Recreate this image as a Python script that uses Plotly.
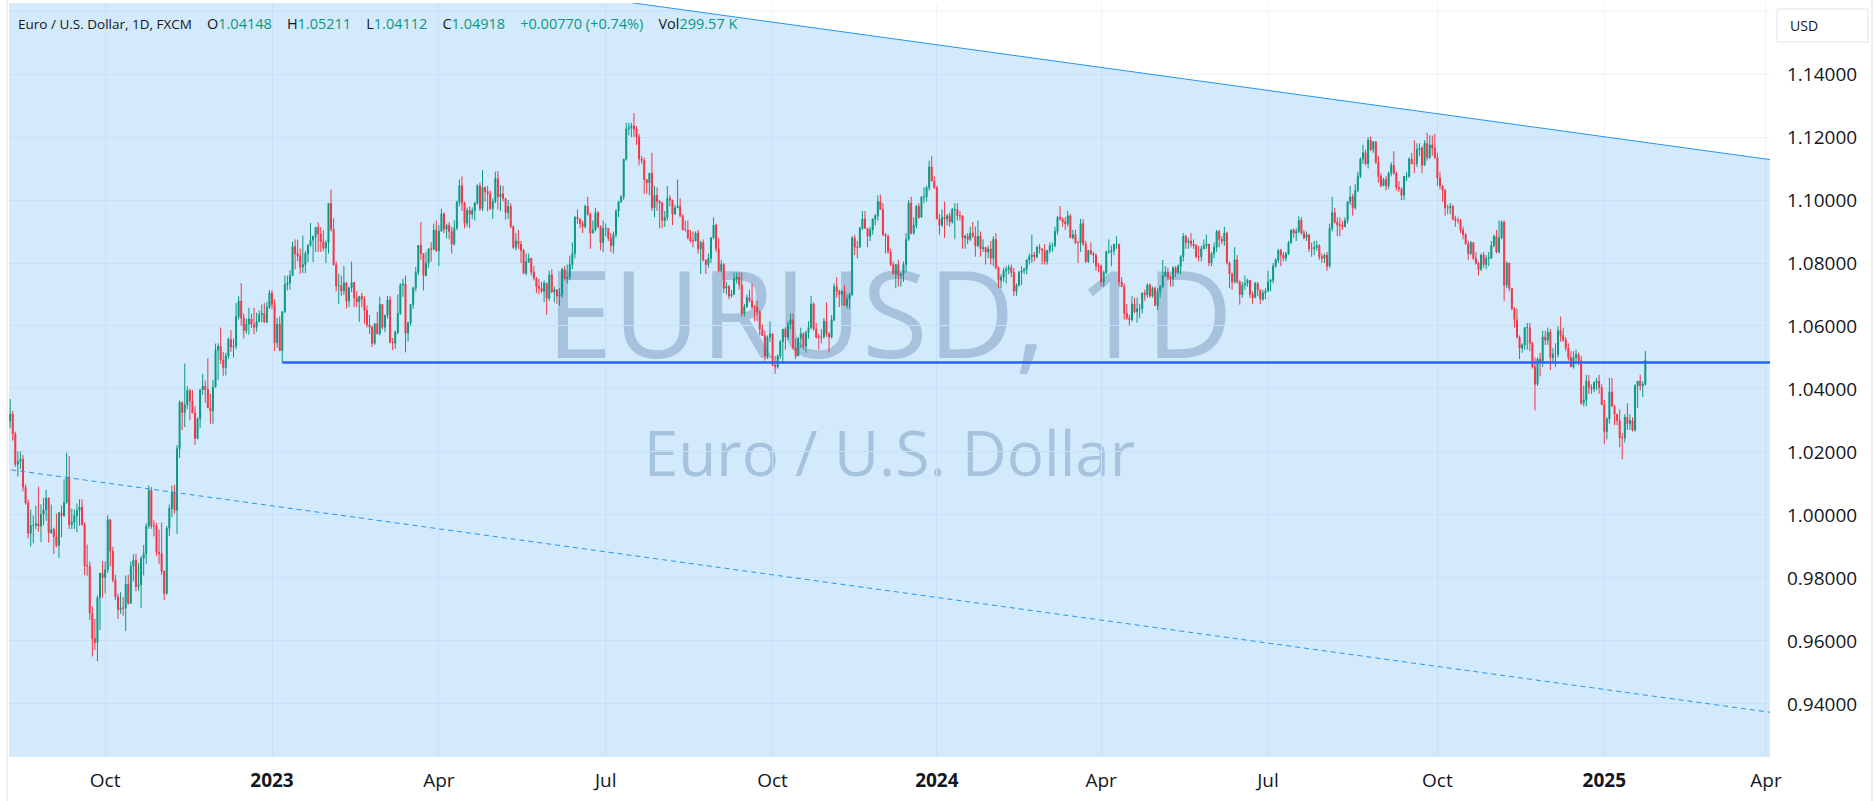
import pandas as pd
import plotly.graph_objects as go

# EUR/USD daily bars (FXCM), 2022-08-11 .. 2025-01-24, prices in 1/10000.
# One line per trading week; every bar opens at the previous close.
first_open = 10298

high = [
    10368, 10330,                          # 2022 Aug 11
    10264, 10202, 10201, 10191, 10097,     # Aug 15
    10049, 10017, 9999, 10030, 10090,      # Aug 22
    10034, 10055, 10080, 10055, 10033,     # Aug 29
    9960, 10004, 10010, 10030, 10113,      # Sep 5
    10198, 10187, 10020, 10017, 10036,     # Sep 12
    10050, 10050, 9977, 9906, 9852,        # Sep 19
    9710, 9670, 9745, 9816, 9854,          # Sep 26
    9853, 9999, 9986, 9899, 9810,          # Oct 3
    9750, 9755, 9740, 9808, 9810,          # Oct 10
    9852, 9875, 9876, 9848, 9870,          # Oct 17
    9905, 9975, 10094, 10089, 9983,        # Oct 24
    9975, 9954, 9976, 9825, 9965,          # Oct 31
    10033, 10093, 10096, 10222, 10364,     # Nov 7
    10361, 10481, 10409, 10400, 10397,     # Nov 14
    10345, 10310, 10400, 10448, 10427,     # Nov 21
    10497, 10385, 10429, 10544, 10545,     # Nov 28
    10595, 10518, 10515, 10564, 10587,     # Dec 5
    10560, 10673, 10695, 10736, 10640,     # Dec 12
    10624, 10658, 10639, 10658, 10642,     # Dec 19
    10650, 10668, 10673, 10677, 10714,     # Dec 26
    10713, 10685, 10626, 10630, 10647,     # 2023 Jan 2
    10760, 10760, 10777, 10868, 10875,     # Jan 9
    10874, 10846, 10887, 10838, 10859,     # Jan 16
    10927, 10887, 10915, 10929, 10914,     # Jan 23
    10904, 10872, 10990, 11033, 10942,     # Jan 30
    10805, 10767, 10760, 10790, 10740,     # Feb 6
    10722, 10804, 10740, 10710, 10695,     # Feb 13
    10705, 10695, 10665, 10635, 10600,     # Feb 20
    10610, 10645, 10693, 10670, 10635,     # Feb 27
    10695, 10695, 10562, 10585, 10700,     # Mar 6
    10736, 10750, 10760, 10613, 10670,     # Mar 13
    10725, 10787, 10856, 10930, 10832,     # Mar 20
    10836, 10845, 10866, 10925, 10935,     # Mar 27
    10920, 10972, 10960, 10925, 10930,     # Apr 3
    10915, 10935, 10998, 11065, 11075,     # Apr 10
    10995, 10976, 10980, 10977, 10995,     # Apr 17
    11050, 11055, 11095, 11042, 11045,     # Apr 24
    11030, 11005, 11090, 11092, 11047,     # May 1
    11045, 11005, 11000, 10990, 10920,     # May 8
    10895, 10905, 10870, 10845, 10830,     # May 15
    10830, 10815, 10790, 10755, 10750,     # May 22
    10740, 10745, 10736, 10775, 10780,     # May 29
    10725, 10715, 10720, 10785, 10790,     # Jun 5
    10795, 10823, 10865, 10950, 10970,     # Jun 12
    10940, 10935, 10985, 11010, 10960,     # Jun 19
    10935, 10975, 10965, 10920, 10935,     # Jun 26
    10925, 10910, 10895, 10900, 10970,     # Jul 3
    10995, 11015, 11130, 11245, 11245,     # Jul 10
    11245, 11276, 11235, 11210, 11140,     # Jul 17
    11135, 11065, 11085, 11150, 11045,     # Jul 24
    11040, 11000, 10995, 10965, 11045,     # Jul 31
    11015, 11000, 10985, 11065, 11005,     # Aug 7
    10955, 10935, 10935, 10905, 10900,     # Aug 14
    10900, 10905, 10870, 10875, 10810,     # Aug 21
    10830, 10880, 10945, 10925, 10880,     # Aug 28
    10810, 10800, 10740, 10730, 10715,     # Sep 4
    10770, 10770, 10770, 10770, 10670,     # Sep 11
    10700, 10715, 10735, 10665, 10680,     # Sep 18
    10650, 10605, 10585, 10570, 10615,     # Sep 25
    10575, 10505, 10510, 10555, 10590,     # Oct 2
    10595, 10615, 10640, 10640, 10560,     # Oct 9
    10565, 10595, 10580, 10585, 10615,     # Oct 16
    10695, 10675, 10610, 10575, 10590,     # Oct 23
    10625, 10675, 10580, 10635, 10735,     # Oct 30
    10755, 10715, 10715, 10730, 10700,     # Nov 6
    10705, 10885, 10890, 10870, 10915,     # Nov 13
    10965, 10965, 10910, 10915, 10940,     # Nov 20
    10955, 11015, 11017, 10990, 10895,     # Nov 27
    10890, 10845, 10805, 10795, 10810,     # Dec 4
    10770, 10805, 10895, 11000, 11010,     # Dec 11
    10945, 10985, 10990, 11010, 11040,     # Dec 18
    11045, 11125, 11139, 11075,            # Dec 26 (25th closed)
    11045, 10955, 10970, 10995,            # 2024 Jan 2 (1st closed)
    10955, 10960, 10975, 10990, 10990,     # Jan 8
    10965, 10950, 10890, 10895, 10915,     # Jan 15
    10930, 10915, 10935, 10900, 10875,     # Jan 22
    10850, 10855, 10870, 10885, 10895,     # Jan 29
    10790, 10765, 10785, 10790, 10795,     # Feb 5
    10795, 10785, 10735, 10775, 10790,     # Feb 12
    10785, 10810, 10830, 10890, 10835,     # Feb 19
    10855, 10860, 10845, 10860, 10840,     # Feb 26
    10865, 10865, 10915, 10950, 10981,     # Mar 4
    10945, 10945, 10965, 10955, 10905,     # Mar 11
    10905, 10870, 10940, 10940, 10870,     # Mar 18
    10840, 10865, 10835, 10830, 10800,     # Mar 25
    10795, 10775, 10840, 10875, 10855,     # Apr 1
    10860, 10885, 10860, 10755, 10735,     # Apr 8
    10670, 10635, 10695, 10690, 10690,     # Apr 15
    10670, 10705, 10715, 10735, 10735,     # Apr 22
    10725, 10725, 10720, 10730, 10810,     # Apr 29
    10790, 10785, 10760, 10790, 10790,     # May 6
    10795, 10825, 10895, 10890, 10880,     # May 13
    10895, 10875, 10860, 10855, 10855,     # May 20
    10875, 10890, 10860, 10835, 10865,     # May 27
    10905, 10905, 10885, 10915, 10900,     # Jun 3
    10805, 10770, 10850, 10825, 10745,     # Jun 10
    10740, 10760, 10750, 10745, 10710,     # Jun 17
    10740, 10740, 10715, 10715, 10720,     # Jun 24
    10775, 10750, 10800, 10815, 10845,     # Jul 1
    10845, 10835, 10835, 10870, 10905,     # Jul 8
    10910, 10910, 10948, 10945, 10905,     # Jul 15
    10900, 10890, 10865, 10870, 10870,     # Jul 22
    10860, 10830, 10830, 10835, 10925,     # Jul 29
    11010, 10975, 10945, 10945, 10935,     # Aug 5
    10945, 10995, 11045, 11020, 11050,     # Aug 12
    11090, 11135, 11175, 11160, 11200,     # Aug 19
    11202, 11185, 11185, 11140, 11085,     # Aug 26
    11070, 11075, 11090, 11120, 11155,     # Sep 2
    11090, 11060, 11040, 11075, 11090,     # Sep 9
    11135, 11150, 11190, 11180, 11180,     # Sep 16
    11170, 11190, 11214, 11205, 11205,     # Sep 23
    11210, 11150, 11090, 11045, 11035,     # Sep 30
    10985, 10990, 10985, 10950, 10945,     # Oct 7
    10940, 10915, 10895, 10870, 10870,     # Oct 14
    10865, 10835, 10805, 10830, 10835,     # Oct 21
    10825, 10835, 10870, 10890, 10905,     # Oct 28
    10935, 10935, 10935, 10805, 10800,     # Nov 4
    10720, 10660, 10655, 10570, 10545,     # Nov 11
    10595, 10610, 10610, 10550, 10500,     # Nov 18
    10500, 10515, 10585, 10585, 10595,     # Nov 25
    10590, 10530, 10545, 10600, 10630,     # Dec 2
    10595, 10565, 10545, 10520, 10520,     # Dec 9
    10525, 10515, 10505, 10410, 10445,     # Dec 16
    10445, 10415, 10425, 10435,            # Dec 23 (25th closed)
    10445, 10415, 10365, 10310,            # Dec 30 (Jan 1 closed)
    10435, 10435, 10350, 10320, 10335,     # 2025 Jan 6
    10260, 10320, 10355, 10320, 10310,     # Jan 13
    10415, 10425, 10445, 10425, 10521,     # Jan 20
]

low = [
    10275, 10236,                          # 2022 Aug 11
    10153, 10122, 10147, 10075, 10033,     # Aug 15
    9926, 9900, 9910, 9955, 9947,          # Aug 22
    9914, 9967, 9982, 9912, 9940,          # Aug 29
    9876, 9897, 9864, 9929, 9995,          # Sep 5
    10035, 9955, 9955, 9955, 9945,         # Sep 12
    9966, 9966, 9809, 9807, 9667,          # Sep 19
    9551, 9571, 9536, 9635, 9737,          # Sep 26
    9751, 9816, 9837, 9786, 9730,          # Oct 3
    9670, 9686, 9680, 9632, 9715,          # Oct 10
    9718, 9790, 9758, 9760, 9705,          # Oct 17
    9808, 9845, 9956, 9956, 9932,          # Oct 24
    9870, 9845, 9810, 9730, 9747,          # Oct 31
    9933, 9993, 10004, 9940, 10181,        # Nov 7
    10270, 10279, 10336, 10301, 10323,     # Nov 14
    10223, 10240, 10276, 10381, 10356,     # Nov 21
    10340, 10290, 10289, 10406, 10429,     # Nov 28
    10480, 10442, 10443, 10495, 10518,     # Dec 5
    10500, 10526, 10620, 10601, 10560,     # Dec 12
    10576, 10572, 10593, 10574, 10582,     # Dec 19
    10612, 10612, 10612, 10609, 10654,     # Dec 26
    10653, 10520, 10531, 10520, 10483,     # 2023 Jan 2
    10642, 10713, 10715, 10763, 10780,     # Jan 9
    10805, 10766, 10768, 10768, 10802,     # Jan 16
    10852, 10803, 10835, 10834, 10835,     # Jan 23
    10838, 10800, 10830, 10900, 10793,     # Jan 30
    10710, 10670, 10696, 10699, 10655,     # Feb 6
    10660, 10707, 10660, 10660, 10613,     # Feb 13
    10660, 10607, 10595, 10575, 10533,     # Feb 20
    10540, 10573, 10570, 10590, 10580,     # Feb 27
    10624, 10545, 10524, 10527, 10574,     # Mar 6
    10635, 10693, 10516, 10551, 10601,     # Mar 13
    10655, 10710, 10761, 10810, 10713,     # Mar 20
    10758, 10785, 10804, 10840, 10835,     # Mar 27
    10790, 10900, 10895, 10878, 10875,     # Apr 3
    10830, 10855, 10905, 10980, 10965,     # Apr 10
    10910, 10915, 10910, 10940, 10935,     # Apr 17
    10985, 10965, 10965, 10995, 10964,     # Apr 24
    10968, 10940, 10990, 10970, 10965,     # May 1
    10995, 10937, 10940, 10910, 10845,     # May 8
    10840, 10845, 10800, 10765, 10760,     # May 15
    10800, 10760, 10745, 10705, 10700,     # May 22
    10705, 10675, 10635, 10680, 10705,     # May 29
    10675, 10670, 10665, 10690, 10745,     # Jun 5
    10735, 10745, 10780, 10815, 10925,     # Jun 12
    10910, 10895, 10910, 10950, 10845,     # Jun 19
    10895, 10900, 10910, 10840, 10835,     # Jun 26
    10885, 10870, 10835, 10830, 10880,     # Jul 3
    10945, 10990, 11000, 11125, 11205,     # Jul 10
    11200, 11200, 11175, 11110, 11115,     # Jul 17
    11020, 11020, 11015, 10965, 10945,     # Jul 24
    10965, 10910, 10910, 10915, 10935,     # Jul 31
    10980, 10920, 10955, 10975, 10945,     # Aug 7
    10905, 10900, 10875, 10865, 10850,     # Aug 14
    10870, 10830, 10765, 10805, 10765,     # Aug 21
    10785, 10800, 10875, 10835, 10770,     # Aug 28
    10770, 10705, 10700, 10685, 10690,     # Sep 4
    10700, 10735, 10715, 10630, 10630,     # Sep 11
    10660, 10675, 10655, 10615, 10615,     # Sep 18
    10570, 10570, 10490, 10495, 10550,     # Sep 25
    10475, 10448, 10465, 10495, 10480,     # Oct 2
    10525, 10555, 10590, 10525, 10495,     # Oct 9
    10505, 10530, 10525, 10515, 10560,     # Oct 16
    10590, 10585, 10560, 10525, 10545,     # Oct 23
    10560, 10565, 10516, 10560, 10615,     # Oct 30
    10690, 10660, 10665, 10665, 10655,     # Nov 6
    10655, 10695, 10825, 10815, 10850,     # Nov 13
    10905, 10910, 10850, 10870, 10890,     # Nov 20
    10920, 10935, 10970, 10885, 10830,     # Nov 27
    10830, 10790, 10765, 10720, 10725,     # Dec 4
    10725, 10740, 10770, 10870, 10890,     # Dec 11
    10890, 10910, 10940, 10945, 10990,     # Dec 18
    10995, 11030, 11060, 11035,            # Dec 26
    10940, 10890, 10915, 10880,            # 2024 Jan 2
    10920, 10915, 10925, 10875, 10935,     # Jan 8
    10935, 10845, 10845, 10860, 10870,     # Jan 15
    10880, 10820, 10850, 10820, 10835,     # Jan 22
    10795, 10815, 10795, 10790, 10780,     # Jan 29
    10720, 10720, 10740, 10735, 10765,     # Feb 5
    10755, 10695, 10695, 10725, 10730,     # Feb 12
    10765, 10765, 10795, 10800, 10805,     # Feb 19
    10815, 10830, 10795, 10795, 10795,     # Feb 26
    10830, 10835, 10850, 10890, 10935,     # Mar 4
    10915, 10905, 10915, 10880, 10875,     # Mar 11
    10860, 10800, 10835, 10855, 10800,     # Mar 18
    10800, 10825, 10800, 10775, 10770,     # Mar 25
    10725, 10725, 10765, 10830, 10790,     # Apr 1
    10825, 10845, 10725, 10725, 10620,     # Apr 8
    10620, 10601, 10615, 10640, 10610,     # Apr 15
    10625, 10640, 10680, 10690, 10690,     # Apr 22
    10690, 10665, 10650, 10690, 10720,     # Apr 29
    10755, 10745, 10725, 10725, 10755,     # May 6
    10765, 10765, 10805, 10845, 10845,     # May 13
    10850, 10845, 10815, 10805, 10805,     # May 20
    10845, 10845, 10790, 10790, 10815,     # May 27
    10835, 10850, 10860, 10855, 10795,     # Jun 3
    10720, 10715, 10735, 10735, 10668,     # Jun 10
    10690, 10715, 10725, 10690, 10670,     # Jun 17
    10690, 10695, 10670, 10680, 10685,     # Jun 24
    10710, 10710, 10735, 10785, 10800,     # Jul 1
    10790, 10805, 10805, 10825, 10860,     # Jul 8
    10880, 10870, 10895, 10890, 10875,     # Jul 15
    10870, 10835, 10820, 10825, 10840,     # Jul 22
    10810, 10800, 10800, 10775, 10785,     # Jul 29
    10900, 10925, 10885, 10885, 10905,     # Aug 5
    10915, 10925, 10985, 10950, 10970,     # Aug 12
    11025, 11070, 11115, 11110, 11100,     # Aug 19
    11155, 11150, 11115, 11055, 11040,     # Aug 26
    11045, 11030, 11035, 11075, 11080,     # Sep 2
    11030, 11025, 11000, 11000, 11060,     # Sep 9
    11070, 11115, 11085, 11105, 11140,     # Sep 16
    11085, 11110, 11125, 11130, 11140,     # Sep 23
    11130, 11045, 11035, 10995, 10950,     # Sep 30
    10955, 10955, 10935, 10915, 10925,     # Oct 7
    10895, 10875, 10860, 10810, 10825,     # Oct 14
    10810, 10795, 10760, 10775, 10785,     # Oct 21
    10780, 10790, 10815, 10850, 10830,     # Oct 28
    10830, 10875, 10680, 10720, 10710,     # Nov 4
    10650, 10595, 10560, 10495, 10515,     # Nov 11
    10525, 10525, 10520, 10465, 10332,     # Nov 18
    10410, 10440, 10470, 10540, 10540,     # Nov 25
    10460, 10480, 10470, 10500, 10550,     # Dec 2
    10550, 10520, 10490, 10470, 10465,     # Dec 9
    10480, 10475, 10350, 10345, 10345,     # Dec 16
    10385, 10385, 10390, 10395,            # Dec 23
    10385, 10350, 10225, 10240,            # Dec 30
    10290, 10345, 10285, 10285, 10215,     # 2025 Jan 6
    10177, 10230, 10270, 10270, 10265,     # Jan 13
    10265, 10340, 10395, 10375, 10411,     # Jan 20
]

close = [
    10320, 10258,                          # 2022 Aug 11
    10161, 10170, 10177, 10088, 10038,     # Aug 15
    9942, 9967, 9967, 9972, 9965,          # Aug 22
    10002, 10017, 10054, 9944, 9954,       # Aug 29
    9930, 9903, 10007, 9997, 10040,        # Sep 5
    10120, 9969, 9978, 9998, 10014,        # Sep 12
    10025, 9970, 9838, 9838, 9689,         # Sep 19
    9608, 9595, 9737, 9815, 9801,          # Sep 26
    9826, 9985, 9885, 9794, 9740,          # Oct 3
    9700, 9705, 9704, 9780, 9720,          # Oct 10
    9837, 9856, 9773, 9779, 9862,          # Oct 17
    9878, 9965, 10078, 9965, 9965,         # Oct 24
    9882, 9877, 9821, 9751, 9958,          # Oct 31
    10021, 10073, 10015, 10210, 10357,     # Nov 7
    10325, 10350, 10395, 10362, 10324,     # Nov 14
    10243, 10305, 10397, 10409, 10398,     # Nov 21
    10340, 10330, 10406, 10523, 10536,     # Nov 28
    10492, 10468, 10505, 10557, 10533,     # Dec 5
    10537, 10630, 10679, 10625, 10585,     # Dec 12
    10606, 10622, 10605, 10596, 10614,     # Dec 19
    10636, 10640, 10612, 10660, 10705,     # Dec 26
    10668, 10547, 10606, 10522, 10645,     # 2023 Jan 2
    10731, 10737, 10760, 10852, 10830,     # Jan 9
    10822, 10787, 10795, 10830, 10856,     # Jan 16
    10872, 10884, 10913, 10892, 10868,     # Jan 23
    10847, 10864, 10989, 10907, 10794,     # Jan 30
    10727, 10728, 10711, 10737, 10679,     # Feb 6
    10722, 10738, 10690, 10677, 10694,     # Feb 13
    10686, 10650, 10604, 10596, 10545,     # Feb 20
    10607, 10576, 10668, 10596, 10635,     # Feb 27
    10683, 10548, 10546, 10580, 10640,     # Mar 6
    10730, 10733, 10577, 10610, 10668,     # Mar 13
    10720, 10770, 10856, 10830, 10760,     # Mar 20
    10800, 10845, 10844, 10904, 10839,     # Mar 27
    10901, 10956, 10907, 10920, 10900,     # Apr 3
    10860, 10910, 10993, 11045, 10990,     # Apr 10
    10926, 10967, 10955, 10966, 10990,     # Apr 17
    11045, 10973, 11040, 11027, 11020,     # Apr 24
    10973, 10995, 11068, 11010, 11019,     # May 1
    11005, 10960, 10980, 10915, 10850,     # May 8
    10870, 10860, 10840, 10767, 10805,     # May 15
    10815, 10771, 10752, 10725, 10720,     # May 22
    10710, 10736, 10688, 10762, 10708,     # May 29
    10715, 10695, 10700, 10780, 10750,     # Jun 5
    10755, 10795, 10830, 10945, 10940,     # Jun 12
    10925, 10915, 10980, 10955, 10895,     # Jun 19
    10905, 10960, 10915, 10865, 10910,     # Jun 26
    10910, 10880, 10855, 10890, 10965,     # Jul 3
    10995, 11010, 11130, 11225, 11230,     # Jul 10
    11235, 11225, 11200, 11130, 11125,     # Jul 17
    11065, 11055, 11085, 10975, 11015,     # Jul 24
    10995, 10990, 10935, 10945, 11005,     # Jul 31
    11000, 10955, 10975, 10980, 10950,     # Aug 7
    10905, 10905, 10880, 10870, 10870,     # Aug 14
    10895, 10845, 10865, 10810, 10795,     # Aug 21
    10815, 10880, 10920, 10845, 10775,     # Aug 28
    10795, 10720, 10725, 10695, 10700,     # Sep 4
    10750, 10755, 10730, 10640, 10660,     # Sep 11
    10690, 10680, 10660, 10660, 10645,     # Sep 18
    10590, 10570, 10505, 10565, 10575,     # Sep 25
    10475, 10470, 10505, 10550, 10590,     # Oct 2
    10565, 10605, 10620, 10530, 10505,     # Oct 9
    10560, 10575, 10535, 10580, 10595,     # Oct 16
    10670, 10590, 10565, 10565, 10565,     # Oct 23
    10615, 10575, 10565, 10620, 10725,     # Oct 30
    10710, 10700, 10710, 10665, 10685,     # Nov 6
    10700, 10880, 10850, 10850, 10910,     # Nov 13
    10940, 10910, 10885, 10905, 10940,     # Nov 20
    10950, 10995, 10970, 10890, 10885,     # Nov 27
    10835, 10795, 10765, 10795, 10760,     # Dec 4
    10765, 10795, 10875, 10990, 10895,     # Dec 11
    10920, 10980, 10945, 11010, 11010,     # Dec 18
    11040, 11105, 11060, 11040,            # Dec 26
    10940, 10920, 10945, 10940,            # 2024 Jan 2
    10950, 10930, 10970, 10970, 10950,     # Jan 8
    10950, 10880, 10885, 10875, 10895,     # Jan 15
    10885, 10855, 10885, 10845, 10850,     # Jan 22
    10835, 10845, 10815, 10875, 10785,     # Jan 29
    10745, 10755, 10775, 10780, 10785,     # Feb 5
    10770, 10710, 10730, 10770, 10775,     # Feb 12
    10780, 10810, 10820, 10825, 10820,     # Feb 19
    10850, 10845, 10840, 10805, 10840,     # Feb 26
    10855, 10855, 10900, 10945, 10940,     # Mar 4
    10930, 10925, 10950, 10880, 10890,     # Mar 11
    10865, 10865, 10925, 10860, 10805,     # Mar 18
    10840, 10830, 10825, 10790, 10790,     # Mar 25
    10740, 10770, 10835, 10835, 10840,     # Apr 1
    10860, 10860, 10740, 10725, 10640,     # Apr 8
    10625, 10620, 10670, 10645, 10655,     # Apr 15
    10655, 10705, 10700, 10730, 10695,     # Apr 22
    10720, 10665, 10710, 10725, 10760,     # Apr 29
    10770, 10755, 10750, 10785, 10770,     # May 6
    10790, 10820, 10885, 10865, 10870,     # May 13
    10860, 10855, 10820, 10820, 10845,     # May 20
    10855, 10860, 10800, 10830, 10850,     # May 27
    10900, 10875, 10870, 10895, 10800,     # Jun 3
    10765, 10740, 10810, 10740, 10700,     # Jun 10
    10730, 10735, 10745, 10700, 10690,     # Jun 17
    10735, 10715, 10685, 10705, 10710,     # Jun 24
    10740, 10745, 10790, 10810, 10840,     # Jul 1
    10825, 10815, 10830, 10865, 10905,     # Jul 8
    10895, 10900, 10935, 10895, 10880,     # Jul 15
    10890, 10845, 10845, 10850, 10855,     # Jul 22
    10820, 10815, 10825, 10790, 10910,     # Jul 29
    10960, 10930, 10920, 10920, 10915,     # Aug 5
    10935, 10995, 11010, 10975, 11030,     # Aug 12
    11075, 11130, 11150, 11115, 11190,     # Aug 19
    11160, 11185, 11120, 11075, 11045,     # Aug 26
    11065, 11045, 11085, 11110, 11085,     # Sep 2
    11040, 11035, 11015, 11075, 11075,     # Sep 9
    11130, 11115, 11115, 11160, 11165,     # Sep 16
    11110, 11180, 11135, 11175, 11165,     # Sep 23
    11135, 11070, 11045, 11030, 10975,     # Sep 30
    10975, 10980, 10940, 10935, 10935,     # Oct 7
    10905, 10890, 10860, 10830, 10865,     # Oct 14
    10815, 10800, 10780, 10825, 10795,     # Oct 21
    10815, 10815, 10855, 10885, 10835,     # Oct 28
    10880, 10930, 10730, 10800, 10720,     # Nov 4
    10655, 10620, 10565, 10530, 10540,     # Nov 11
    10595, 10595, 10545, 10470, 10415,     # Nov 18
    10495, 10485, 10565, 10555, 10580,     # Nov 25
    10500, 10510, 10510, 10585, 10570,     # Dec 2
    10555, 10530, 10500, 10470, 10500,     # Dec 9
    10510, 10490, 10355, 10365, 10425,     # Dec 16
    10405, 10400, 10420, 10425,            # Dec 23
    10405, 10350, 10265, 10305,            # Dec 30
    10390, 10345, 10320, 10300, 10245,     # 2025 Jan 6
    10245, 10310, 10290, 10300, 10270,     # Jan 13
    10410, 10425, 10410, 10415, 10492,     # Jan 20
]

# days with no FXCM bar besides weekends
holidays = ["2023-12-25", "2024-01-01", "2024-12-25", "2025-01-01"]

# time scale labels (first bar of each quarter)
tick_dates = ["2022-10-03", "2023-01-02", "2023-04-03", "2023-07-03", "2023-10-02",
              "2024-01-02", "2024-04-01", "2024-07-01", "2024-10-01", "2025-01-02",
              "2025-04-01"]
tick_text = ["Oct", "<b>2023</b>", "Apr", "Jul", "Oct", "<b>2024</b>", "Apr", "Jul",
             "Oct", "<b>2025</b>", "Apr"]
price_ticks = [0.94, 0.96, 0.98, 1.00, 1.02, 1.04, 1.06, 1.08, 1.10, 1.12, 1.14]

# drawings: parallel channel (top / dashed middle / bottom) and a horizontal ray
channel_dates = ["2022-08-01", "2025-04-15"]
channel_top = [1.19094, 1.11143]
channel_mid = [1.01549, 0.93598]
channel_bottom = [0.84004, 0.76053]
ray_start = "2023-01-06"
ray_price = 1.0484

legend_title = "Euro / U.S. Dollar, 1D, FXCM"
legend_values = [("O", "1.04148"), ("H", "1.05211"), ("L", "1.04112"), ("C", "1.04918")]
legend_change = "+0.00770 (+0.74%)"
legend_volume = "299.57 K"

dates = pd.bdate_range("2022-08-11", "2025-01-24")
dates = dates[~dates.isin(pd.to_datetime(holidays))]
assert len(dates) == len(close) == len(high) == len(low)

cl = [v / 1e4 for v in close]
hi = [v / 1e4 for v in high]
lo = [v / 1e4 for v in low]
op = [first_open / 1e4] + cl[:-1]

UP = "#089981"
DOWN = "#F23645"
TEXT = "#131722"
GRID = "#f0f3fa"
FONT = "Open Sans"

fig = go.Figure(go.Candlestick(
    x=dates, open=op, high=hi, low=lo, close=cl,
    increasing=dict(line=dict(color=UP, width=1), fillcolor=UP),
    decreasing=dict(line=dict(color=DOWN, width=1), fillcolor=DOWN),
    whiskerwidth=0, hoverinfo="skip",
))

nb = "\u00a0"
gap = nb * 4
header = f"<span style='font-size:13.5px'>{legend_title}</span>" + gap
for k, v in legend_values:
    header += f"{k}<span style='color:{UP}'>{v}</span>" + gap
header += f"<span style='color:{UP}'>{legend_change}</span>" + gap
header += f"Vol<span style='color:{UP}'>{legend_volume}</span>"

fill_path = (f"M {channel_dates[0]},{channel_top[0]} L {channel_dates[1]},{channel_top[1]} "
             f"L {channel_dates[1]},{channel_bottom[1]} L {channel_dates[0]},{channel_bottom[0]} Z")

wm_color = "rgba(90,110,140,0.34)"
shapes = [
    dict(type="line", xref="paper", x0=0, x1=1, yref="y", y0=1.16, y1=1.16,
         line=dict(color=GRID, width=1), layer="below"),
    dict(type="rect", xref="paper", yref="paper", x0=0, x1=1, y0=0.4797, y1=0.6797,
         line=dict(width=0), fillcolor="rgba(0,0,0,0)", layer="between",
         label=dict(text="EURUSD, 1D", textposition="middle center",
                    font=dict(family=FONT, size=120, color=wm_color))),
    dict(type="rect", xref="paper", yref="paper", x0=0, x1=1, y0=0.3486, y1=0.4486,
         line=dict(width=0), fillcolor="rgba(0,0,0,0)", layer="between",
         label=dict(text="Euro / U.S. Dollar", textposition="middle center",
                    font=dict(family=FONT, size=62, color=wm_color))),
    dict(type="path", xref="x", yref="y", path=fill_path,
         fillcolor="rgba(33,150,243,0.2)", line=dict(width=0), layer="between"),
    dict(type="line", xref="x", yref="y", x0=channel_dates[0], y0=channel_top[0],
         x1=channel_dates[1], y1=channel_top[1], line=dict(color="#2196F3", width=1)),
    dict(type="line", xref="x", yref="y", x0=channel_dates[0], y0=channel_mid[0],
         x1=channel_dates[1], y1=channel_mid[1],
         line=dict(color="#2196F3", width=1, dash="5px,4px")),
    dict(type="line", xref="x", yref="y", x0=ray_start, y0=ray_price,
         x1=channel_dates[1], y1=ray_price, line=dict(color="#2962FF", width=2.5)),
    # currency box on the price scale
    dict(type="rect", xref="paper", yref="paper", x0=1.00397, x1=1.05565,
         y0=0.94828, y1=0.99204, line=dict(color="#e0e3eb", width=1),
         fillcolor="white", layer="above"),
    # pane borders
    dict(type="line", xref="paper", yref="paper", x0=-0.00114, x1=-0.00114,
         y0=-0.0584, y1=1.004, line=dict(color="#e0e3eb", width=1)),
    dict(type="line", xref="paper", yref="paper", x0=1.05792, x1=1.05792,
         y0=-0.0584, y1=1.004, line=dict(color="#e0e3eb", width=1)),
]

annotations = [
    dict(text=header, xref="paper", yref="paper", x=0.004, y=0.9728,
         xanchor="left", yanchor="middle", showarrow=False,
         font=dict(family=FONT, size=14.5, color=TEXT)),
    dict(text="USD", xref="paper", yref="paper", x=1.0102, y=0.9702,
         xanchor="left", yanchor="middle", showarrow=False,
         font=dict(family=FONT, size=14, color=TEXT)),
]

fig.update_layout(
    width=1874, height=801,
    margin=dict(l=9, r=104, t=3, b=44),
    paper_bgcolor="white", plot_bgcolor="white",
    showlegend=False,
    boxgap=0.45,
    font=dict(family=FONT, color=TEXT),
    shapes=shapes, annotations=annotations,
    xaxis=dict(
        type="date",
        range=["2022-08-10 13:00", "2025-04-02 13:30"],
        rangebreaks=[dict(bounds=["sat", "mon"]), dict(values=holidays)],
        tickvals=tick_dates, ticktext=tick_text,
        tickfont=dict(family=FONT, size=19, color=TEXT),
        showgrid=True, gridcolor=GRID, gridwidth=1,
        zeroline=False, showline=False, ticks="",
        ticklabelstandoff=10,
        rangeslider=dict(visible=False),
    ),
    yaxis=dict(
        side="right",
        range=[0.92317, 1.16254],
        tickvals=price_ticks, tickformat=".5f",
        tickfont=dict(family=FONT, size=19, color=TEXT),
        showgrid=True, gridcolor=GRID, gridwidth=1,
        zeroline=False, showline=False, ticks="",
        ticklabelstandoff=16,
    ),
)

# the page must not add its default body margin around the 1874x801 figure
fig.write_html("out.html", config={"displayModeBar": False},
               post_script="document.body.style.margin='0px';")
